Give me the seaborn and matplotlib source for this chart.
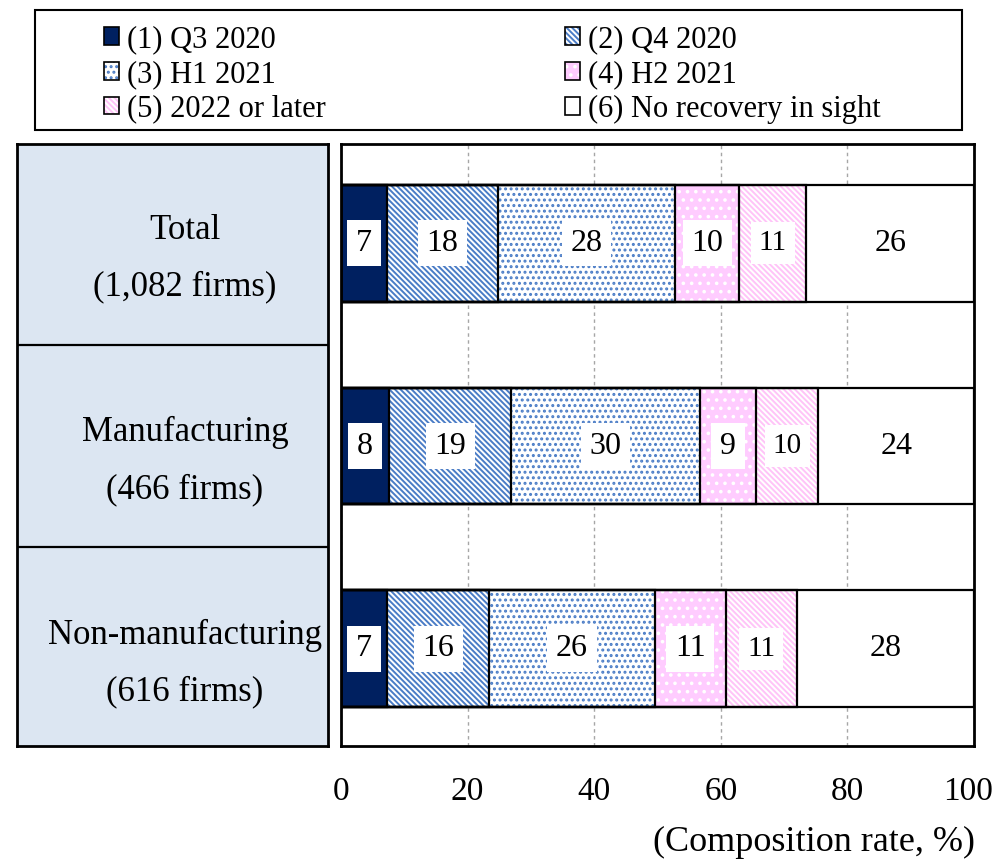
import numpy as np
import pandas as pd
import matplotlib
matplotlib.use("Agg")
import matplotlib.pyplot as plt
from matplotlib.patches import Patch, Rectangle
from matplotlib.transforms import ScaledTranslation
import seaborn as sns

# ---------------- data ----------------
categories = ["Total", "Manufacturing", "Non-manufacturing"]
firm_counts = ["(1,082 firms)", "(466 firms)", "(616 firms)"]
series_names = ["(1) Q3 2020", "(2) Q4 2020", "(3) H1 2021",
                "(4) H2 2021", "(5) 2022 or later", "(6) No recovery in sight"]
q3_2020 = [7.3, 7.6, 7.3]
q4_2020 = [17.5, 19.3, 16.1]
h1_2021 = [28.0, 29.8, 26.2]
h2_2021 = [10.1, 8.9, 11.2]
y2022_or_later = [10.6, 9.8, 11.2]
no_recovery = [26.5, 24.6, 28.0]
label_q3_2020 = [7, 8, 7]
label_q4_2020 = [18, 19, 16]
label_h1_2021 = [28, 30, 26]
label_h2_2021 = [10, 9, 11]
label_2022 = [11, 10, 11]
label_no_rec = [26, 24, 28]
x_ticks = [0, 20, 40, 60, 80, 100]

values = [q3_2020, q4_2020, h1_2021, h2_2021, y2022_or_later, no_recovery]
labels = [label_q3_2020, label_q4_2020, label_h1_2021, label_h2_2021, label_2022, label_no_rec]

# ---------------- styles ----------------
faces = ["#002060", "white", "white", "#FFCCFF", "white", "white"]
hatches = [None, "\\\\\\\\\\\\", "...", "..", "\\\\\\\\\\\\", None]
hcolors = ["#002060", "#4A7CC6", "#4A7CC6", "white", "#FFC4F8", "white"]
label_sizes = [23, 23, 23, 23, 21, 23]

sns.set_style("white")
plt.rcParams["font.family"] = ["Liberation Serif", "DejaVu Serif"]
plt.rcParams["hatch.linewidth"] = 1.4
plt.rcParams["text.color"] = "black"
plt.rcParams["xtick.color"] = "black"
plt.rcParams["ytick.color"] = "black"
plt.rcParams["axes.labelcolor"] = "black"

W, H = 998, 859
fig = plt.figure(figsize=(W / 100, H / 100), dpi=100)

ax_l, ax_r, ax_t, ax_b = 341, 974, 144, 746
ax = fig.add_axes([ax_l / W, 1 - ax_b / H, (ax_r - ax_l) / W, (ax_b - ax_t) / H])

df = pd.DataFrame({"category": categories})
cum = np.cumsum(np.array(values, dtype=float), axis=0)
bar_w = 0.576

# filled / hatched layers (largest cumulative first)
for i in reversed(range(len(values))):
    df["cum"] = cum[i]
    n0 = len(ax.patches)
    sns.barplot(data=df, x="cum", y="category", orient="h", color=faces[i],
                saturation=1, width=bar_w, errorbar=None, ax=ax)
    for p in ax.patches[n0:]:
        p.set_facecolor(faces[i])
        p.set_hatch(hatches[i])
        p.set_edgecolor(hcolors[i])
        p.set_linewidth(0)
        p.set_zorder(2)

# black outlines of each segment
for i in range(len(values)):
    df["cum"] = cum[i]
    n0 = len(ax.patches)
    sns.barplot(data=df, x="cum", y="category", orient="h", color="white",
                saturation=1, width=bar_w, errorbar=None, ax=ax)
    for p in ax.patches[n0:]:
        p.set_facecolor("none")
        p.set_hatch(None)
        p.set_edgecolor("black")
        p.set_linewidth(1.6)
        p.set_zorder(3)

# value labels
for i in range(len(values)):
    for j in range(len(categories)):
        ax.text(cum[i][j] - values[i][j] / 2, j, str(labels[i][j]),
                ha="center", va="center", fontsize=label_sizes[i], zorder=5,
                color="black",
                bbox=dict(boxstyle="square,pad=0.27", fc="white", ec="none"))

ax.set_xlim(0, 100)
ax.set_ylim(2.48, -0.49)
ax.set_yticks([])
ax.set_xticks(x_ticks)
ax.set_xticklabels([str(t) for t in x_ticks], fontsize=24, color="black")
ax.tick_params(axis="x", length=0, pad=22, labelcolor="black")
last = ax.get_xticklabels()[-1]
last.set_transform(last.get_transform() + ScaledTranslation(-0.06, 0, fig.dpi_scale_trans))
ax.set_xlabel("")
ax.set_ylabel("")
ax.set_axisbelow(True)
ax.xaxis.grid(True, color="#a6a6a6", linestyle=(0, (2.5, 2.5)), linewidth=1)
for s in ax.spines.values():
    s.set_visible(True)
    s.set_color("black")
    s.set_linewidth(2)

# left label panel
lx0, lx1 = 17, 328
lax = fig.add_axes([lx0 / W, 1 - ax_b / H, (lx1 - lx0) / W, (ax_b - ax_t) / H])
lax.set_facecolor("#DCE6F2")
lax.set_xlim(0, 1)
lax.set_ylim(2.48, -0.49)
lax.set_xticks([])
lax.set_yticks([])
for yb in [0.5, 1.5]:
    lax.axhline(yb, color="black", lw=1.6)
for s in lax.spines.values():
    s.set_visible(True)
    s.set_color("black")
    s.set_linewidth(2)
for j, (c, n) in enumerate(zip(categories, firm_counts)):
    lax.text(0.54, j - 0.065, c, ha="center", va="center", fontsize=25, color="black")
    lax.text(0.54, j + 0.215, n, ha="center", va="center", fontsize=25, color="black")

# x axis caption
fig.text(975 / W, 1 - 842 / H, "(Composition rate, %)", ha="right", va="center",
         fontsize=26, color="black")

# legend
def handle(i):
    return (Patch(facecolor=faces[i], hatch=hatches[i], edgecolor=hcolors[i], linewidth=0),
            Patch(facecolor="none", edgecolor="black", linewidth=1.2))

leg_kw = dict(frameon=False, fontsize=22, handlelength=0.5, handleheight=0.5,
              handletextpad=0.25, labelspacing=0.19, borderpad=0, borderaxespad=0,
              loc="upper left", labelcolor="black")
leg1 = fig.legend([handle(i) for i in [0, 2, 4]], [series_names[i] for i in [0, 2, 4]],
                  bbox_to_anchor=(104 / W, 1 - 25 / H), **leg_kw)
leg2 = fig.legend([handle(i) for i in [1, 3, 5]], [series_names[i] for i in [1, 3, 5]],
                  bbox_to_anchor=(565 / W, 1 - 25 / H), **leg_kw)

fig.add_artist(Rectangle((35 / W, 1 - 130 / H), 927 / W, 120 / H, transform=fig.transFigure,
                         fill=False, edgecolor="black", linewidth=1.5))

fig.savefig("out.png", dpi=100)
